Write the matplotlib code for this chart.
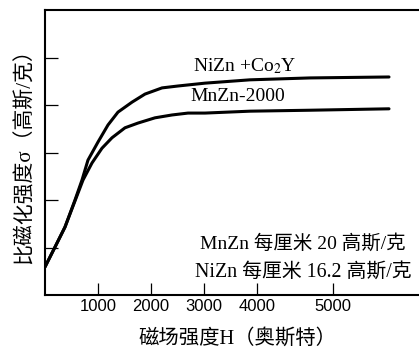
import numpy as np
import matplotlib
matplotlib.use("Agg")
import matplotlib.pyplot as plt

plt.rcParams["mathtext.fontset"] = "stix"

CJK = ["Liberation Serif", "Noto Sans CJK SC", "DejaVu Sans"]

# field H (Oe) vs specific magnetisation (arbitrary tick units)
h_nizn = [0, 189, 377, 566, 698, 811, 1000, 1189, 1377, 1642, 1887, 2208, 2509, 3019, 3868, 5000, 6491]
s_nizn = [0.59, 1.01, 1.43, 2.00, 2.42, 2.84, 3.22, 3.58, 3.85, 4.06, 4.23, 4.36, 4.40, 4.46, 4.53, 4.57, 4.59]

h_mnzn = [0, 189, 377, 566, 717, 887, 1075, 1264, 1509, 1755, 2075, 2396, 2698, 3019, 3868, 5000, 6491]
s_mnzn = [0.59, 1.01, 1.43, 1.98, 2.42, 2.78, 3.09, 3.31, 3.52, 3.62, 3.73, 3.79, 3.83, 3.83, 3.87, 3.89, 3.92]

x_tick_pos = [1000, 2000, 3000, 4000, 5430]
x_tick_labels = ["1000", "2000", "3000", "4000", "5000"]
y_tick_pos = [1, 2, 3, 4, 5]

fig = plt.figure(figsize=(4.19, 3.49), dpi=100)
ax = fig.add_axes([45 / 419, 54 / 349, 374 / 419, 285 / 349])

ax.plot(h_nizn, s_nizn, color="black", lw=2.2, solid_joinstyle="round", solid_capstyle="round")
ax.plot(h_mnzn, s_mnzn, color="black", lw=2.2, solid_joinstyle="round", solid_capstyle="round")

ax.set_xlim(0, 7057)
ax.set_ylim(0, 6)
ax.spines["right"].set_visible(False)
for s in ("left", "top", "bottom"):
    ax.spines[s].set_linewidth(1.5)

ax.set_xticks(x_tick_pos)
ax.set_xticklabels(x_tick_labels, family="Liberation Sans", fontsize=12)
ax.set_yticks(y_tick_pos)
ax.set_yticklabels([])
ax.tick_params(axis="both", direction="in", length=9, width=0.9)
ax.tick_params(axis="x", pad=3)

ax.text(2792, 4.82, "NiZn +Co$_2$Y", family=CJK, fontsize=14, va="center")
ax.text(2736, 4.17, "MnZn-2000", family=CJK, fontsize=14, va="center")
ax.text(2925, 1.09, "MnZn 每厘米 20 高斯/克", family=CJK, fontsize=14, va="center")
ax.text(2830, 0.48, "NiZn 每厘米 16.2 高斯/克", family=CJK, fontsize=14.3, va="center")

fig.text(25 / 419, 1 - 151 / 349, "比磁化强度σ（高斯/克）", family=CJK,
         fontsize=15, rotation=90, ha="center", va="center")
fig.text(237 / 419, 1 - 339 / 349, "磁场强度H（奥斯特）", family=CJK,
         fontsize=14.7, ha="center", va="center")

fig.savefig("out.png", dpi=100)
